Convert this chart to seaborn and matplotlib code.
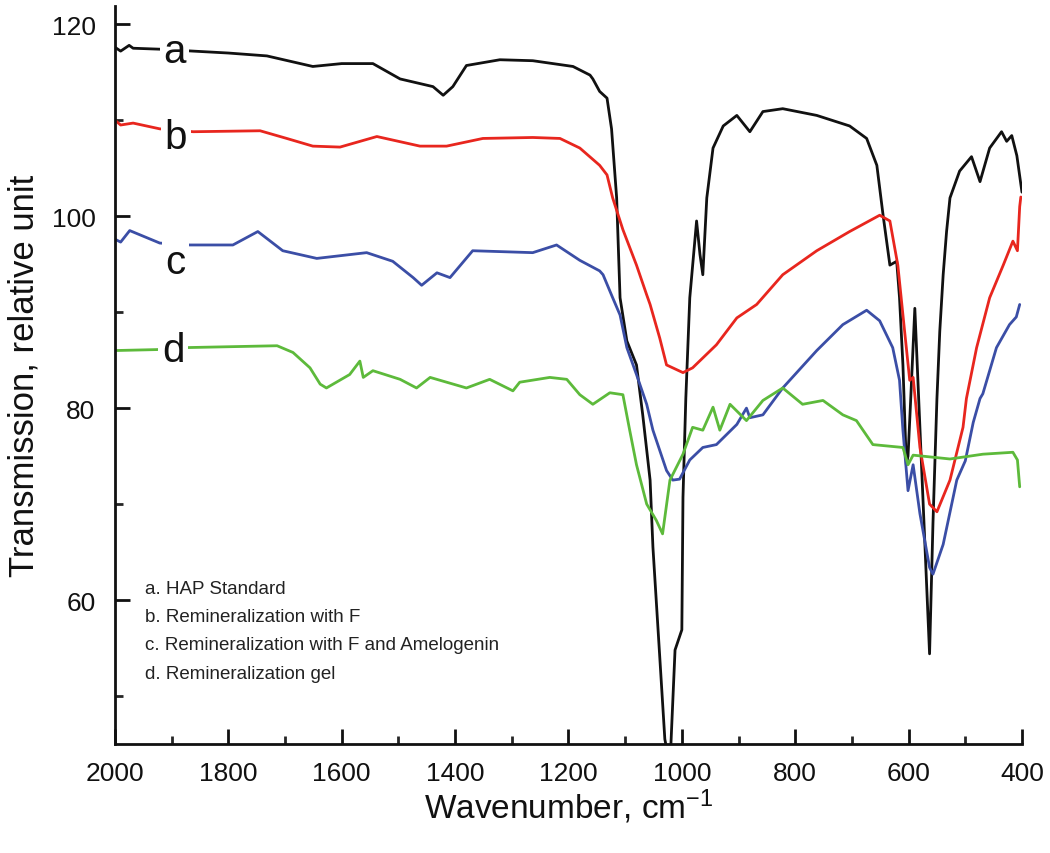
import matplotlib
matplotlib.use("Agg")
import matplotlib.pyplot as plt
import seaborn as sns
import numpy as np
import pandas as pd
from matplotlib.ticker import MultipleLocator

# ---- data (wavenumber, transmission) ----
a_wn = [2000, 1990, 1975, 1968, 1921, 1862, 1800, 1732, 1651, 1600, 1545, 1497, 1439, 1421, 1404, 1380,
        1321, 1263, 1192, 1162, 1157, 1145, 1132, 1124, 1115, 1109, 1097, 1080, 1069, 1056, 1051,
        1039, 1030, 1025, 1020, 1012, 1000, 998, 993, 986, 974, 968, 963, 956, 945, 927, 903, 880,
        857, 822, 762, 704, 674, 656, 645, 633, 621, 616, 610, 604, 601, 597, 589, 563, 557,
        550, 545, 539, 533, 527, 510, 489, 474, 457, 436, 427, 418, 409, 400]
a_val = [117.6, 117.2, 117.8, 117.5, 117.4, 117.2, 117.0, 116.7, 115.6, 115.9, 115.9, 114.3, 113.5, 112.6, 113.5, 115.7,
         116.3, 116.2, 115.6, 114.7, 114.3, 113.0, 112.3, 109.1, 101.9, 91.5, 87.0, 84.5, 79.3, 72.5, 65.5,
         54.1, 45.5, 44.0, 44.0, 54.8, 56.9, 70.7, 81.0, 91.5, 99.5, 96.0, 93.9, 101.9, 107.1, 109.4, 110.5, 108.8,
         110.9, 111.2, 110.5, 109.4, 108.1, 105.3, 100.1, 94.9, 95.3, 91.5, 84.5, 74.1, 75.0, 80.0, 90.4, 54.4, 68.0,
         81.0, 88.0, 93.9, 98.4, 101.9, 104.7, 106.2, 103.6, 107.1, 108.8, 107.8, 108.4, 106.3, 102.5]

b_wn = [2000, 1990, 1968, 1921, 1862, 1744, 1697, 1651, 1603, 1538, 1462, 1415, 1351, 1263, 1215, 1180,
        1145, 1132, 1122, 1104, 1080, 1062, 1056, 1039, 1027, 998, 981, 939, 903, 868, 822, 762, 704,
        651, 633, 619, 607, 598, 592, 580, 563, 550, 527, 504, 498, 480, 457, 433, 416, 408, 404, 402]
b_val = [110.0, 109.5, 109.7, 109.1, 108.8, 108.9, 108.1, 107.3, 107.2, 108.3, 107.3, 107.3, 108.1, 108.2, 108.1, 107.1,
         105.3, 104.3, 101.9, 98.6, 94.9, 91.8, 90.8, 87.3, 84.5, 83.7, 84.2, 86.6, 89.4, 90.8, 93.9, 96.4, 98.4,
         100.1, 99.5, 94.9, 88.0, 82.9, 83.2, 75.9, 70.0, 69.2, 72.5, 78.0, 81.0, 86.3, 91.5, 94.9, 97.4, 96.4, 101.0, 102.0]

c_wn = [2000, 1990, 1974, 1921, 1868, 1792, 1748, 1704, 1644, 1556, 1510, 1474, 1459, 1432, 1409, 1369,
        1263, 1221, 1180, 1145, 1139, 1122, 1109, 1097, 1080, 1062, 1051, 1039, 1027, 1016, 1004,
        986, 963, 939, 903, 886, 880, 857, 822, 762, 716, 674, 651, 628, 616, 610, 601, 592, 580,
        563, 557, 539, 515, 500, 486, 474, 469, 445, 422, 410, 404]
c_val = [97.6, 97.3, 98.5, 97.2, 97.0, 97.0, 98.4, 96.4, 95.6, 96.2, 95.3, 93.6, 92.8, 94.1, 93.6, 96.4,
         96.2, 97.0, 95.4, 94.3, 93.9, 91.5, 89.7, 86.3, 83.5, 80.4, 77.7, 75.6, 73.5, 72.5, 72.6,
         74.6, 75.9, 76.2, 78.3, 80.0, 79.0, 79.3, 82.1, 86.0, 88.7, 90.2, 89.1, 86.3, 82.9, 77.7, 71.4, 74.1, 69.0,
         63.4, 62.7, 65.8, 72.5, 74.5, 78.5, 81.0, 81.5, 86.3, 88.7, 89.5, 90.8]

d_wn = [2000, 1926, 1880, 1714, 1686, 1656, 1638, 1627, 1586, 1568, 1562, 1545, 1497, 1468, 1444, 1380,
        1339, 1298, 1286, 1233, 1203, 1180, 1157, 1127, 1104, 1092, 1080, 1062, 1045, 1034, 1021,
        998, 981, 963, 945, 933, 915, 886, 857, 822, 787, 751, 716, 692, 663, 610, 601, 592, 527,
        469, 416, 408, 404]
d_val = [86.0, 86.1, 86.3, 86.5, 85.8, 84.2, 82.5, 82.1, 83.5, 84.9, 83.2, 83.9, 83.0, 82.1, 83.2, 82.1,
         83.0, 81.8, 82.7, 83.2, 83.0, 81.4, 80.4, 81.6, 81.4, 77.7, 74.1, 70.0, 68.3, 66.9, 72.5,
         75.2, 78.0, 77.7, 80.1, 77.7, 80.4, 78.7, 80.8, 82.1, 80.4, 80.8, 79.3, 78.7, 76.2, 75.9, 74.1, 75.1, 74.7,
         75.2, 75.4, 74.6, 71.8]

series_names = ["a", "b", "c", "d"]
series_colors = ["#111111", "#e8261e", "#3b4ea6", "#5dba3b"]
legend_lines = ["a. HAP Standard",
                "b. Remineralization with F",
                "c. Remineralization with F and Amelogenin",
                "d. Remineralization gel"]

frames = []
for name, wn, val in zip(series_names, [a_wn, b_wn, c_wn, d_wn], [a_val, b_val, c_val, d_val]):
    frames.append(pd.DataFrame({"wn": wn, "T": val, "s": name}))
df = pd.concat(frames, ignore_index=True)

sns.set_theme(style="ticks")
plt.rcParams["font.family"] = ["Liberation Sans", "DejaVu Sans"]
plt.rcParams["mathtext.fontset"] = "custom"
plt.rcParams["mathtext.rm"] = "Liberation Sans"
plt.rcParams["mathtext.it"] = "Liberation Sans"

fig = plt.figure(figsize=(10.5, 8.54), dpi=100)
ax = fig.add_axes([0.1095, 0.1276, 0.8638, 0.8642])

for name, col in zip(series_names, series_colors):
    sub = df[df["s"] == name]
    sns.lineplot(data=sub, x="wn", y="T", sort=False, estimator=None, color=col,
                 linewidth=2.0, ax=ax, legend=False)

ax.set_xlim(2000, 400)
ax.set_ylim(45, 121.9)
ax.xaxis.set_major_locator(MultipleLocator(200))
ax.xaxis.set_minor_locator(MultipleLocator(100))
ax.yaxis.set_major_locator(MultipleLocator(20))
ax.yaxis.set_minor_locator(MultipleLocator(10))
ax.tick_params(which="major", direction="in", length=11, width=2, labelsize=19, pad=12, colors="#111111")
ax.tick_params(which="minor", direction="in", length=6, width=2)
ax.tick_params(axis="y", pad=14)
for sp in ["top", "right"]:
    ax.spines[sp].set_visible(False)
for sp in ["left", "bottom"]:
    ax.spines[sp].set_linewidth(2)
    ax.spines[sp].set_color("#111111")

ax.set_xlabel(r"Wavenumber, cm$^{-1}$", fontsize=24, labelpad=1, color="#111111")
ax.set_ylabel("Transmission, relative unit", fontsize=25, labelpad=8, color="#111111")

# curve labels
label_pos = [(1895, 117.2), (1893, 108.3), (1893, 95.2), (1897, 86.1)]
for name, (xw, yv) in zip(series_names, label_pos):
    ax.text(xw, yv, name, fontsize=29, ha="center", va="center", color="#111111",
            bbox=dict(facecolor="white", edgecolor="none", pad=2.5), zorder=5)

# legend text block
leg_y = [61.2, 58.3, 55.4, 52.4]
for txt, yv in zip(legend_lines, leg_y):
    ax.text(1947, yv, txt, fontsize=13.5, ha="left", va="center", color="#222222")

fig.savefig("out.png", dpi=100)
